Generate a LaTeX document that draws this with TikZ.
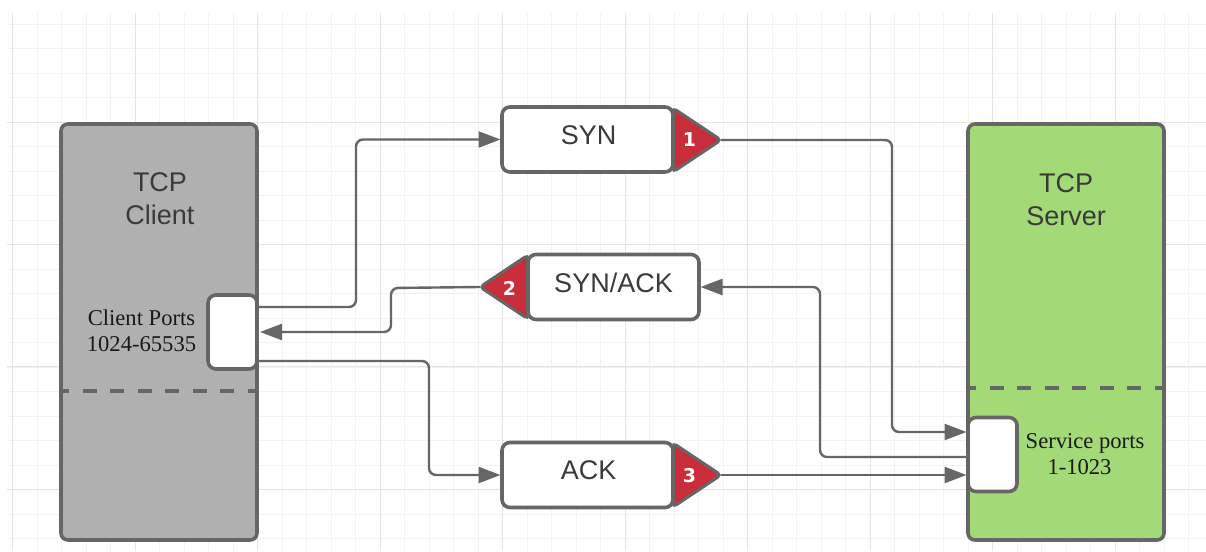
\documentclass[tikz,border=0pt]{standalone}
\usepackage{fontspec}
\setmainfont{Liberation Sans}
\newfontfamily\serifface{Liberation Serif}
\newfontfamily\badgeface{DejaVu Sans}
\usetikzlibrary{arrows.meta}
\definecolor{edgegray}{HTML}{666666}
\definecolor{clientfill}{HTML}{B0B0B0}
\definecolor{serverfill}{HTML}{A3D977}
\definecolor{badgered}{HTML}{C92D39}
\definecolor{inktext}{HTML}{3A3A3A}
\definecolor{gridminor}{HTML}{F2F2F2}
\definecolor{gridmajor}{HTML}{E4E4E4}
\tikzset{
  x=1pt,y=-1pt,
  hostbox/.style={draw=edgegray,line width=3.6pt,rounded corners=7pt,inner sep=0pt,outer sep=0pt,minimum width=196pt,minimum height=416pt},
  msgbox/.style={draw=edgegray,fill=white,line width=3.6pt,rounded corners=8pt,inner sep=0pt,outer sep=0pt,minimum width=171pt,minimum height=65pt},
  portbox/.style={draw=edgegray,fill=white,line width=3.6pt,rounded corners=8pt,inner sep=0pt,outer sep=0pt,minimum width=49pt,minimum height=74pt},
  badge/.style={draw=edgegray,fill=badgered,line width=3pt,rounded corners=4pt},
  badgetext/.style={text=white,font=\badgeface\bfseries\fontsize{19}{19}\selectfont,inner sep=0pt},
  link/.style={draw=edgegray,line width=2.4pt,rounded corners=7pt},
  linkarrow/.style={link,-{Triangle[length=22pt,width=16pt]},shorten >=1.5pt},
  divider/.style={draw=edgegray,line width=3.6pt,dash pattern=on 14pt off 13.5pt,dash phase=8pt},
  hosttext/.style={text=inktext,font=\fontsize{27}{33}\selectfont,align=center,inner sep=0pt},
  msgtext/.style={text=inktext,font=\fontsize{27}{30}\selectfont,inner sep=0pt},
  porttext/.style={text=black!90,font=\serifface\fontsize{22.6}{26}\selectfont,align=center,inner sep=0pt},
}
\begin{document}
\begin{tikzpicture}
\useasboundingbox (0,0) rectangle (1206,551);
\fill[white] (0,0) rectangle (1206,551);
% grid
\foreach \k in {0,...,48}{\draw[gridminor,line width=1pt] ({12.5+24.5*\k},13) -- ({12.5+24.5*\k},551);}
\foreach \k in {0,...,21}{\draw[gridminor,line width=1.2pt] (7,{24.3+24.5*\k}) -- (1206,{24.3+24.5*\k});}
\foreach \k in {0,...,9}{\draw[gridmajor,line width=1pt] ({12.5+122.5*\k},13) -- ({12.5+122.5*\k},551);}
\foreach \k in {1,...,4}{\draw[gridmajor,line width=1pt] (7,{122.3*\k}) -- (1206,{122.3*\k});}
% hosts
\node[hostbox,fill=clientfill] (client) at (159,332) {};
\node[hostbox,fill=serverfill] (server) at (1066,332) {};
\node[hosttext] (clientname) at (160,199) {TCP\\Client};
\node[hosttext] (servername) at (1066,199.5) {TCP\\Server};
\coordinate (cdl) at (63,391);
\coordinate (cdr) at (257,391);
\coordinate (sdl) at (970,388);
\coordinate (sdr) at (1164,388);
\draw[divider] (cdl) -- (cdr);
\draw[divider] (sdl) -- (sdr);
% ports
\node[portbox] (cport) at (232.5,332) {};
\node[portbox] (sport) at (992.5,454.5) {};
\node[porttext] (cportname) at (141.5,331) {Client Ports\\1024-65535};
\node[porttext] (sportname) at (1085,454) {Service ports\\1-1023\hspace*{11pt}};
% messages
\coordinate (syntip) at (721,140);
\coordinate (acktip) at (721,475);
\coordinate (sactip) at (480,287);
\draw[badge] (673,108) -- (syntip) -- (673,172) -- cycle;
\draw[badge] (673,443) -- (acktip) -- (673,507) -- cycle;
\draw[badge] (528,255) -- (sactip) -- (528,319) -- cycle;
\node[msgbox] (syn) at (587.5,139.5) {};
\node[msgbox] (sac) at (613.5,287) {};
\node[msgbox] (ack) at (587.5,475) {};
\node[msgtext] (synname) at (588.5,135) {SYN};
\node[msgtext] (sacname) at (613.5,283) {SYN/ACK};
\node[msgtext] (ackname) at (588.5,470) {ACK};
\node[badgetext] (b1) at (689.5,140) {1};
\node[badgetext] (b2) at (509.5,288) {2};
\node[badgetext] (b3) at (689.5,476) {3};
% connectors
\draw[linkarrow] ([yshift=25pt]cport.east) -- ++(99,0) |- (syn.west);
\draw[linkarrow] (sactip) -- (391,288) |- ([xshift=1.5pt]cport.east);
\draw[linkarrow] ([yshift=-29pt]cport.east) -- (429,361) |- ([yshift=0pt]ack.west);
\draw[linkarrow] (syntip) -- (892,140) |- ([yshift=22.5pt]server.west |- sport.west);
\draw[linkarrow] (sport.west |- 0,457) -- (820,457) |- (sac.east);
\draw[linkarrow,rounded corners=0pt] (acktip) -- ([yshift=-20.5pt]sport.west);
\end{tikzpicture}
\end{document}
